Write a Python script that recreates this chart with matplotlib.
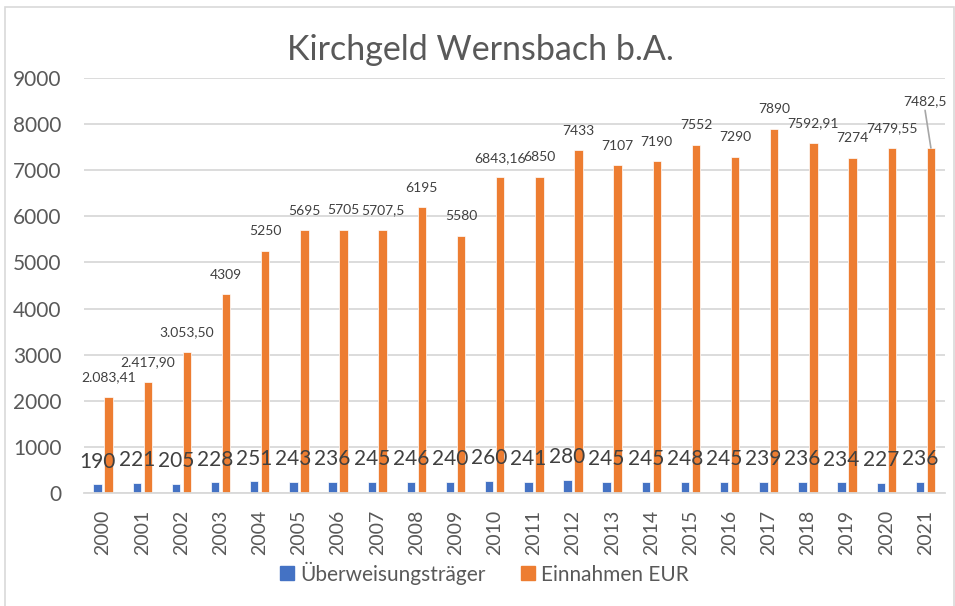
import matplotlib
matplotlib.use("Agg")
import matplotlib.pyplot as plt
from matplotlib.patches import Rectangle, Patch
import numpy as np

years = ["2000", "2001", "2002", "2003", "2004", "2005", "2006", "2007", "2008", "2009", "2010",
         "2011", "2012", "2013", "2014", "2015", "2016", "2017", "2018", "2019", "2020", "2021"]
ueberweisungstraeger = [190, 221, 205, 228, 251, 243, 236, 245, 246, 240, 260,
                        241, 280, 245, 245, 248, 245, 239, 236, 234, 227, 236]
einnahmen = [2083.41, 2417.90, 3053.50, 4309, 5250, 5695, 5705, 5707.5, 6195, 5580, 6843.16,
             6850, 7433, 7107, 7190, 7552, 7290, 7890, 7592.91, 7274, 7479.55, 7482.5]
einnahmen_labels = ["2.083,41", "2.417,90", "3.053,50", "4309", "5250", "5695", "5705", "5707,5",
                    "6195", "5580", "6843,16", "6850", "7433", "7107", "7190", "7552", "7290",
                    "7890", "7592,91", "7274", "7479,55", "7482,5"]
series_names = ["Überweisungsträger", "Einnahmen EUR"]
title = "Kirchgeld Wernsbach b.A."
yticks = [0, 1000, 2000, 3000, 4000, 5000, 6000, 7000, 8000, 9000]

BLUE = "#4472C4"
ORANGE = "#ED7D31"
TXT = "#595959"
GRID = "#D9D9D9"
FONT = "Lato"

plt.rcParams['font.family'] = [FONT, 'DejaVu Sans']

W, H = 955, 606
fig = plt.figure(figsize=(W / 100, H / 100), dpi=100)
fig.patch.set_facecolor("white")

# chart frame
fig.patches.append(Rectangle((5 / W, -0.1), (954 - 5) / W, 1.1 - 7 / H,
                             transform=fig.transFigure, fill=False,
                             edgecolor=GRID, linewidth=1.2))

ax = fig.add_axes([83.5 / W, 1 - 493 / H, (945 - 83.5) / W, (493 - 78) / H])
x = np.arange(len(years))
bw = 0.215
off = 0.14
ax.bar(x - off, ueberweisungstraeger, bw, color=BLUE, edgecolor="white", linewidth=0.5, zorder=3)
ax.bar(x + off, einnahmen, bw, color=ORANGE, edgecolor="white", linewidth=0.5, zorder=3)

ax.set_xlim(-0.5, len(years) - 0.5)
ax.set_ylim(0, 9000)
ax.set_yticks(yticks)
ax.set_yticklabels([str(t) for t in yticks], fontsize=15, color=TXT)
ax.set_xticks(x)
ax.set_xticklabels(years, rotation=90, fontsize=14, color=TXT)
ax.tick_params(axis="both", length=0)
ax.tick_params(axis="y", pad=16)
ax.tick_params(axis="x", pad=12)
ax.yaxis.grid(True, color=GRID, linewidth=1.3, zorder=0)
ax.set_axisbelow(True)
for s in ["top", "right", "left"]:
    ax.spines[s].set_visible(False)
ax.spines["bottom"].set_color(GRID)
ax.spines["bottom"].set_linewidth(1.3)
ax.spines["bottom"].set_zorder(4)

# labels for blue series
for xi, v in zip(x, ueberweisungstraeger):
    ax.annotate(str(v), (xi - off, v), xytext=(0, 12), textcoords="offset points",
                ha="center", va="baseline", fontsize=15, color="#404040", zorder=5)

# labels for orange series
for i, (xi, v, lab) in enumerate(zip(x, einnahmen, einnahmen_labels)):
    if i == len(years) - 1:
        ax.annotate(lab, (xi + off, v), xytext=(-4.5, 30.5), textcoords="offset points",
                    ha="center", va="baseline", fontsize=10, color="#404040", zorder=5,
                    arrowprops=dict(arrowstyle="-", color="#A6A6A6", lw=1.2,
                                    shrinkA=0, shrinkB=0, relpos=(0.5, 0.0)))
    else:
        ax.annotate(lab, (xi + off, v), xytext=(0, 11.3), textcoords="offset points",
                    ha="center", va="baseline", fontsize=10, color="#404040", zorder=5)

fig.text(480 / W, 1 - 50 / H, title, ha="center", va="center", fontsize=24.5, color=TXT)

handles = [Patch(facecolor=BLUE, edgecolor=BLUE), Patch(facecolor=ORANGE, edgecolor=ORANGE)]
leg = fig.legend(handles, series_names, loc="center", bbox_to_anchor=(484.5 / W, 1 - 573 / H),
                 ncol=2, frameon=False, fontsize=15, handlelength=0.67, handleheight=0.67,
                 handletextpad=0.3, columnspacing=1.7, borderaxespad=0)
for t in leg.get_texts():
    t.set_color(TXT)

fig.savefig("out.png", dpi=100)
